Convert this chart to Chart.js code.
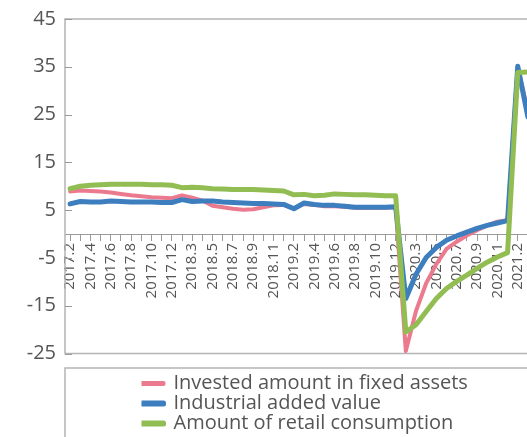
<!DOCTYPE html>
<html>
<head>
<meta charset="utf-8">
<script src="https://cdn.jsdelivr.net/npm/chart.js@4"></script>
<style>
  html, body { margin: 0; padding: 0; overflow: hidden; background: #fff; }
  #wrap { position: absolute; left: 0; top: 0; width: 540px; height: 437px; }
</style>
</head>
<body>
<div id="wrap"><canvas id="growthChart"></canvas></div>
<script>
	// categories (month, year-to-date)
	var categories = [
		'2017.2','2017.3','2017.4','2017.5','2017.6','2017.7','2017.8','2017.9','2017.10','2017.11','2017.12',
		'2018.2','2018.3','2018.4','2018.5','2018.6','2018.7','2018.8','2018.9','2018.10','2018.11','2018.12',
		'2019.2','2019.3','2019.4','2019.5','2019.6','2019.7','2019.8','2019.9','2019.10','2019.11','2019.12',
		'2020.2','2020.3','2020.4','2020.5','2020.6','2020.7','2020.8','2020.9','2020.10','2020.11','2020.12',
		'2021.2','2021.3'
	];

	// Invested amount in fixed assets
	var fixedAssets = [
		8.9, 9.1, 9.0, 8.9, 8.7, 8.4, 8.1, 7.9, 7.7, 7.6, 7.5,
		8.1, 7.6, 7.0, 5.9, 5.6, 5.3, 5.1, 5.2, 5.6, 6.0, 6.1,
		5.4, 6.3, 6.1, 5.8, 5.8, 5.7, 5.5, 5.5, 5.5, 5.5, 5.6,
		-24.5, -16.1, -10.3, -6.3, -3.1, -1.6, -0.3, 0.8, 1.8, 2.6, 2.9,
		35.0, 25.6
	];

	// Industrial added value
	var industrial = [
		6.3, 6.8, 6.7, 6.7, 6.9, 6.8, 6.7, 6.7, 6.7, 6.6, 6.6,
		7.2, 6.8, 6.9, 6.9, 6.7, 6.6, 6.5, 6.4, 6.4, 6.3, 6.2,
		5.3, 6.5, 6.2, 6.0, 6.0, 5.8, 5.6, 5.6, 5.6, 5.6, 5.7,
		-13.5, -8.4, -4.9, -2.8, -1.3, -0.4, 0.4, 1.2, 1.8, 2.3, 2.8,
		35.1, 24.5
	];

	// Amount of retail consumption
	var retail = [
		9.5, 10.0, 10.2, 10.3, 10.4, 10.4, 10.4, 10.4, 10.3, 10.3, 10.2,
		9.7, 9.8, 9.7, 9.5, 9.4, 9.3, 9.3, 9.3, 9.2, 9.1, 9.0,
		8.2, 8.3, 8.0, 8.1, 8.4, 8.3, 8.2, 8.2, 8.1, 8.0, 8.0,
		-20.5, -19.0, -16.2, -13.5, -11.4, -9.9, -8.6, -7.2, -5.9, -4.8, -3.9,
		33.8, 33.9
	];

	// y axis ticks
	var yTicks = [-25, -15, -5, 5, 15, 25, 35, 45];

	var seriesNames = ['Invested amount in fixed assets', 'Industrial added value', 'Amount of retail consumption'];

	var fontName = "'Open Sans', 'DejaVu Sans', sans-serif";
	var textColor = '#555555';
	var frameColor = '#b4b4b4';

	// frame of plot, inner y ticks, legend frame
	var framePlugin = {
		id: 'frames',
		afterLayout: function(chart) {
			// legend sits inside its own box under the plot
			var lg = chart.legend;
			lg.left = 141.5;
			lg.top = 373.5;
			lg.right = chart.width;
			lg.bottom = chart.height + 10;
		},
		beforeDatasetsDraw: function(chart) {
			var ctx = chart.ctx;
			var a = chart.chartArea;
			var ys = chart.scales.y;
			ctx.save();
			ctx.strokeStyle = frameColor;
			ctx.lineWidth = 1.5;
			ctx.strokeRect(a.left, a.top, a.right - a.left, a.bottom - a.top);
			ctx.lineWidth = 1;
			ctx.strokeStyle = '#9a9a9a';
			ys.ticks.forEach(function(t) {
				var py = Math.round(ys.getPixelForValue(t.value)) + 0.5;
				ctx.beginPath();
				ctx.moveTo(a.left, py);
				ctx.lineTo(a.left + 7, py);
				ctx.stroke();
			});
			ctx.restore();
		},
		afterDraw: function(chart) {
			var ctx = chart.ctx;
			var a = chart.chartArea;
			ctx.save();
			ctx.strokeStyle = frameColor;
			ctx.lineWidth = 1.5;
			ctx.beginPath();
			ctx.moveTo(a.left, chart.height + 2);
			ctx.lineTo(a.left, 368);
			ctx.lineTo(chart.width + 2, 368);
			ctx.stroke();
			ctx.restore();
		}
	};

	var data = {
		labels: categories,
		datasets: [{
			label: seriesNames[0],
			data: fixedAssets,
			borderColor: '#ec7a8e',
			backgroundColor: '#ec7a8e',
			borderWidth: 4,
			order: 2
		}, {
			label: seriesNames[1],
			data: industrial,
			borderColor: '#3d7ebf',
			backgroundColor: '#3d7ebf',
			borderWidth: 5,
			order: 1
		}, {
			label: seriesNames[2],
			data: retail,
			borderColor: '#91bd52',
			backgroundColor: '#91bd52',
			borderWidth: 5,
			order: 0
		}]
	};

	var config = {
		type: 'line',
		data: data,
		plugins: [framePlugin],
		options: {
			responsive: true,
			maintainAspectRatio: false,
			animation: false,
			layout: {
				padding: { top: 19, left: 0, right: 7, bottom: 13.5 }
			},
			elements: {
				point: { radius: 0, hoverRadius: 0 },
				line: { tension: 0, borderCapStyle: 'round', borderJoinStyle: 'round', fill: false }
			},
			scales: {
				x: {
					type: 'category',
					offset: true,
					position: { y: 0 },
					afterFit: function(scale) {
						scale.height = 0;
						scale.paddingLeft = 0;
						scale.paddingRight = 0;
					},
					grid: { drawOnChartArea: false, drawTicks: true, tickLength: 6, color: '#9a9a9a' },
					border: { display: true, color: '#9a9a9a', width: 1 },
					ticks: {
						autoSkip: false,
						minRotation: 90,
						maxRotation: 90,
						padding: 3,
						color: textColor,
						font: { family: fontName, size: 15 },
						callback: function(val, i) {
							return i % 2 === 0 ? categories[i] : '';
						}
					}
				},
				y: {
					min: -25,
					max: 45,
					afterFit: function(scale) {
						scale.width = 65;
						scale.paddingTop = 0;
						scale.paddingBottom = 0;
					},
					afterBuildTicks: function(scale) {
						scale.ticks = yTicks.map(function(v) { return { value: v }; });
					},
					grid: { display: false, drawTicks: false },
					border: { display: false },
					ticks: {
						padding: 9,
						color: textColor,
						font: { family: fontName, size: 20 }
					}
				}
			},
			plugins: {
				legend: {
					display: true,
					position: 'bottom',
					align: 'start',
					fullSize: false,
					labels: {
						boxWidth: 22,
						boxHeight: 1,
						padding: 0,
						color: textColor,
						font: { family: fontName, size: 20 },
						sort: function(a, b) { return a.datasetIndex - b.datasetIndex; }
					}
				},
				tooltip: { enabled: false }
			}
		}
	};

	var ctx1 = document.getElementById('growthChart').getContext('2d');
	new Chart(ctx1, config);
</script>
</body>
</html>
